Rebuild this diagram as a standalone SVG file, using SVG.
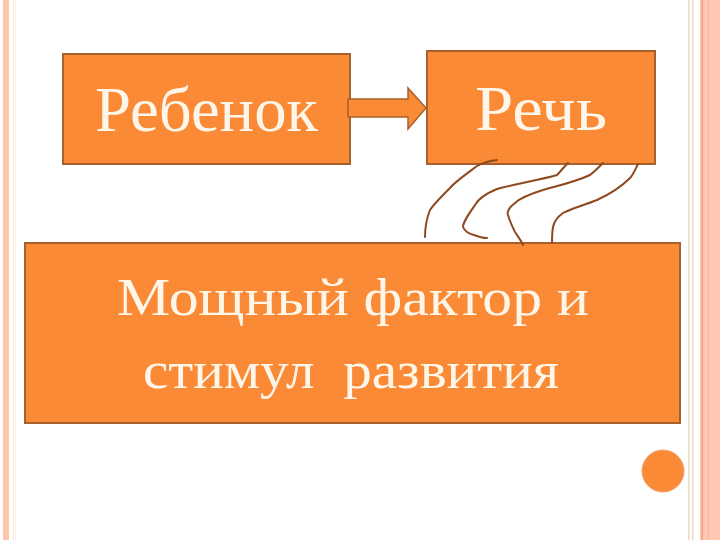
<svg xmlns="http://www.w3.org/2000/svg" width="720" height="540" viewBox="0 0 720 540">
<style>
.box{fill:#FA8A36;stroke:#A8602C;stroke-width:2}
.t{font-family:"Liberation Serif","DejaVu Serif",serif;fill:#FFF6EA;text-anchor:middle}
.sq{fill:none;stroke:#8E4A1E;stroke-width:2;stroke-linecap:round;stroke-linejoin:round}
</style>
<rect width="720" height="540" fill="#FFFFFF"/>
<g id="frame">
<rect x="3" y="0" width="6" height="540" fill="#FFC4AC"/>
<rect x="13" y="0" width="1" height="540" fill="#FBE3D8"/>
<rect x="15" y="0" width="1" height="540" fill="#FDF2DC"/>
<rect x="688" y="0" width="1.5" height="540" fill="#F2D8CC"/>
<rect x="692" y="0" width="1.5" height="540" fill="#F2D8CC"/>
<rect x="700" y="0" width="20" height="540" fill="#FFC8B4"/>
<rect x="701.5" y="0" width="1.5" height="540" fill="#EE9E80"/>
<rect x="708" y="0" width="1" height="540" fill="#F6B8A0"/>
</g>
<g id="node-rebenok">
<rect class="box" x="63" y="54" width="287" height="110"/>
<text class="t" x="206.5" y="131" font-size="63" textLength="223" lengthAdjust="spacingAndGlyphs">Ребенок</text>
</g>
<g id="node-rech">
<rect class="box" x="427" y="51" width="228" height="113"/>
<text class="t" x="541" y="130" font-size="63" textLength="132" lengthAdjust="spacingAndGlyphs">Речь</text>
</g>
<g id="node-factor">
<rect class="box" x="25" y="243" width="655" height="180"/>
<text class="t" x="353" y="315" font-size="53" textLength="472" lengthAdjust="spacingAndGlyphs">Мощный фактор и</text>
<text class="t" x="351" y="388" font-size="53" textLength="416" lengthAdjust="spacingAndGlyphs" xml:space="preserve">стимул  развития</text>
</g>
<g id="dot">
<circle cx="663" cy="471" r="21" fill="#FA8A36" stroke="#F2A070" stroke-width="1"/>
</g>
<g id="connectors">
<path d="M348,99 H408 V88 L426,108 L408,129 V117 H348 Z" fill="#FA8A36" stroke="#A8602C" stroke-width="1.5"/>
<path class="sq" d="M497,160 C490,161 482,163 477,166 C465,175 455,182 450,188 C440,198 433,205 430,210 C426,220 425,228 425,237"/>
<path class="sq" d="M568,163 C563,168 560,172 557,175 C540,180 515,184 497,189 C485,194 478,199 475,205 C468,215 463,222 463,227 C465,232 470,234 474,235 C479,237 483,238 487,238"/>
<path class="sq" d="M603,163 C598,168 594,172 590,175 C575,182 557,186 543,190 C530,194 520,198 515,203 C508,208 507,213 508,215 C510,222 513,228 515,232 C519,238 522,242 523,245"/>
<path class="sq" d="M638,164 C635,170 633,175 630,178 C620,188 608,195 597,200 C585,205 572,208 563,213 C556,218 554,222 553,227 C552,233 552,238 552,243"/>
</g>
</svg>
